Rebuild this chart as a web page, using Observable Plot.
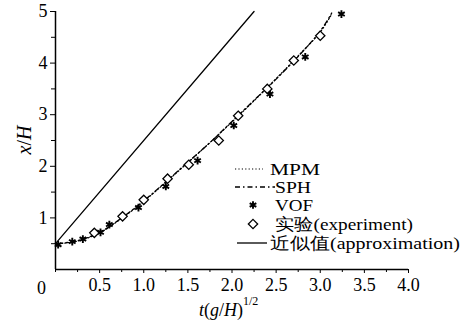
<!DOCTYPE html>
<html>
<head>
<meta charset="utf-8">
<script src="https://cdn.jsdelivr.net/npm/d3@7"></script>
<script src="https://cdn.jsdelivr.net/npm/@observablehq/plot@0.6"></script>
<style>
  html, body { margin: 0; padding: 0; background: #fff; }
  #chart { width: 467px; height: 327px; }
  #chart svg text { font-family: 'Liberation Serif', 'Times New Roman', Times, 'DejaVu Serif', serif !important; }
</style>
</head>
<body>
<div id="chart"></div>
<script>
// ---- data ----
const sphT = [0.03, 0.25, 0.5, 0.75, 1.0, 1.25, 1.5, 1.75, 2.0, 2.25, 2.5, 2.75, 3.0, 3.13];
const sphY = [0.50, 0.56, 0.72, 1.00, 1.33, 1.70, 2.08, 2.46, 2.87, 3.28, 3.69, 4.13, 4.62, 4.97];
const mpmT = [0.03, 0.25, 0.5, 0.75, 1.0, 1.25, 1.5, 1.75, 2.0, 2.25, 2.5, 2.75, 3.0, 3.12];
const mpmY = [0.50, 0.55, 0.71, 0.99, 1.32, 1.69, 2.07, 2.46, 2.86, 3.27, 3.70, 4.14, 4.60, 4.92];
const vofT = [0.03, 0.19, 0.31, 0.51, 0.61, 0.94, 1.25, 1.61, 2.02, 2.43, 2.83, 3.24];
const vofY = [0.48, 0.54, 0.59, 0.72, 0.87, 1.20, 1.61, 2.11, 2.79, 3.40, 4.12, 4.95];
const expT = [0.44, 0.76, 1.00, 1.27, 1.51, 1.85, 2.07, 2.40, 2.70, 3.00];
const expY = [0.71, 1.03, 1.35, 1.76, 2.03, 2.50, 2.98, 3.50, 4.05, 4.53];
const apxT = [0.0, 2.25];
const apxY = [0.5, 5.0];

const xMajor = [0.5, 1.0, 1.5, 2.0, 2.5, 3.0, 3.5, 4.0];
const xMinor = [0, 0.25, 0.75, 1.25, 1.75, 2.25, 2.75, 3.25, 3.75];
const yMajor = [1, 2, 3, 4, 5];
const yMinor = [0.5, 1.5, 2.5, 3.5, 4.5];
const originLabel = ["0"];

const legendLabels = ["MPM", "SPH", "VOF", "实验(experiment)", "近似值(approximation)"];

const toRows = (T, Y) => T.map((t, i) => ({t, y: Y[i]}));
const sph = toRows(sphT, sphY);
const mpm = toRows(mpmT, mpmY);
const vof = toRows(vofT, vofY);
const exp = toRows(expT, expY);
const apx = toRows(apxT, apxY);

const FONT = "'Liberation Serif', 'Times New Roman', Times, 'DejaVu Serif', serif";

const chart = Plot.plot({
  width: 467,
  height: 327,
  marginLeft: 55,
  marginRight: 59,
  marginTop: 11,
  marginBottom: 58,
  x: {domain: [0, 4]},
  y: {domain: [0, 5]},
  style: {fontSize: "18px", background: "#fff", color: "#000", fontFamily: FONT},
  marks: [
    Plot.axisY({ticks: yMajor, tickSize: 5, tickPadding: 3, tickFormat: d => String(d), label: null, fontSize: 18, fontFamily: FONT, fontVariant: "normal"}),
    Plot.axisY({ticks: yMinor, tickSize: 4, tickFormat: () => "", label: null}),
    Plot.axisX({ticks: xMajor, tickSize: 4, tickPadding: 5, tickFormat: d => d.toFixed(1), label: null, fontSize: 18, fontFamily: FONT, fontVariant: "normal"}),
    Plot.axisX({ticks: xMinor, tickSize: 3, tickFormat: () => "", label: null}),
    Plot.text(originLabel, {x: 0, y: 0, text: d => d, dx: -14, dy: 19, fontSize: 18, fontFamily: FONT}),
    Plot.ruleX([0], {y1: 0, y2: 5, stroke: "#000", strokeWidth: 1.5}),
    Plot.ruleY([0], {x1: 0, x2: 4, stroke: "#000", strokeWidth: 1.5}),
    Plot.line(apx, {x: "t", y: "y", stroke: "#000", strokeWidth: 1.3}),
    Plot.line(mpm, {x: "t", y: "y", stroke: "#000", strokeWidth: 1.2, strokeDasharray: "1.2,2.2", curve: "catmull-rom"}),
    Plot.line(sph, {x: "t", y: "y", stroke: "#000", strokeWidth: 1.3, strokeDasharray: "5,3,1.5,3", curve: "catmull-rom"}),
    Plot.dot(vof, {x: "t", y: "y", symbol: "asterisk", r: 3.6, stroke: "#000", strokeWidth: 1.9}),
    Plot.dot(exp, {x: "t", y: "y", symbol: "diamond2", r: 4.2, fill: "#fff", stroke: "#000", strokeWidth: 1.3})
  ]
});

document.getElementById("chart").appendChild(chart);

const svg = d3.select(chart);

// y title
const yt = svg.append("text")
  .attr("transform", "translate(31,140) rotate(-90)")
  .attr("text-anchor", "middle")
  .attr("font-size", 20);
yt.append("tspan").attr("font-style", "italic").text("x");
yt.append("tspan").text("/");
yt.append("tspan").attr("font-style", "italic").text("H");

// x title
const xt = svg.append("text")
  .attr("x", 199).attr("y", 316)
  .attr("text-anchor", "start")
  .attr("font-size", 18);
xt.append("tspan").attr("font-style", "italic").text("t");
xt.append("tspan").text("(");
xt.append("tspan").attr("font-style", "italic").text("g");
xt.append("tspan").text("/");
xt.append("tspan").attr("font-style", "italic").text("H");
xt.append("tspan").text(")");
svg.append("text")
  .attr("x", 243).attr("y", 305)
  .attr("text-anchor", "start")
  .attr("font-size", 12)
  .text("1/2");

// legend
const lg = svg.append("g").attr("font-size", 17).attr("text-anchor", "start");
const rows = [169, 187, 205, 224, 243];
const addText = (x, y, s, len) => lg.append("text").attr("x", x).attr("y", y + 6)
  .attr("textLength", len).attr("lengthAdjust", "spacingAndGlyphs").text(s);
// MPM
lg.append("line").attr("x1", 235).attr("x2", 263).attr("y1", rows[0]).attr("y2", rows[0])
  .attr("stroke", "#000").attr("stroke-width", 1.2).attr("stroke-dasharray", "1.2,2.2");
addText(270, rows[0], legendLabels[0], 50);
// SPH
lg.append("line").attr("x1", 235).attr("x2", 275).attr("y1", rows[1]).attr("y2", rows[1])
  .attr("stroke", "#000").attr("stroke-width", 1.3).attr("stroke-dasharray", "5,3,1.5,3");
addText(275, rows[1], legendLabels[1], 36);
// VOF
lg.append("path").attr("transform", `translate(253,${rows[2]})`)
  .attr("d", d3.symbol(d3.symbolAsterisk, Math.PI * 3.6 * 3.6)())
  .attr("stroke", "#000").attr("stroke-width", 1.9).attr("fill", "none");
addText(275, rows[2], legendLabels[2], 38);
// experiment
lg.append("path").attr("transform", `translate(253,${rows[3]})`)
  .attr("d", d3.symbol(d3.symbolDiamond2, Math.PI * 4.2 * 4.2)())
  .attr("stroke", "#000").attr("stroke-width", 1.3).attr("fill", "#fff");
addText(275, rows[3], legendLabels[3], 138);
// approximation
lg.append("line").attr("x1", 237).attr("x2", 267).attr("y1", rows[4]).attr("y2", rows[4])
  .attr("stroke", "#000").attr("stroke-width", 1.3);
addText(270, rows[4], legendLabels[4], 190);
</script>
</body>
</html>
